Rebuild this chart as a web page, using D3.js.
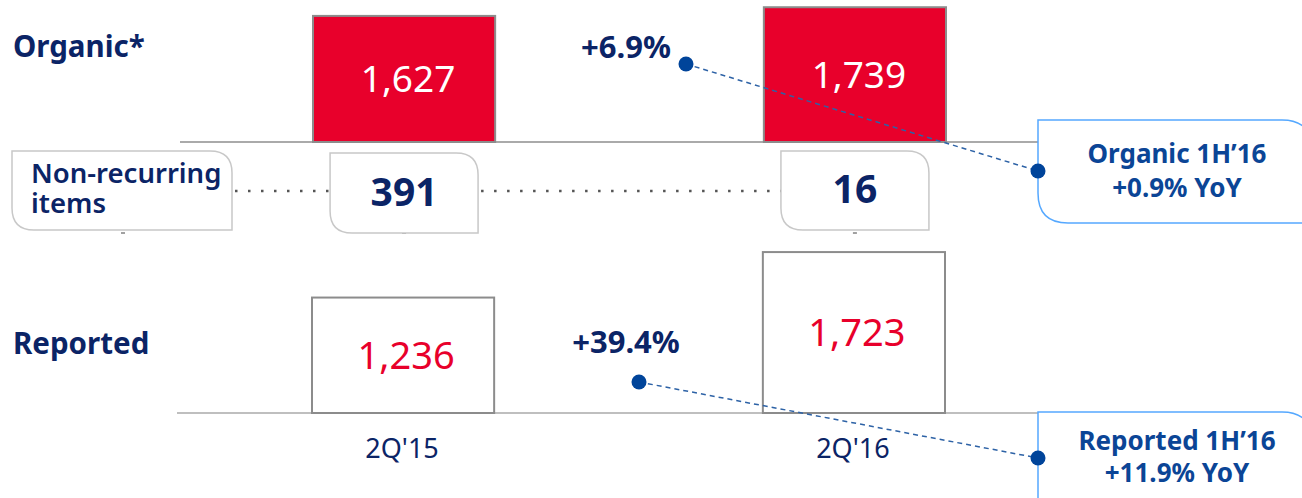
<!DOCTYPE html>
<html>
<head>
<meta charset="utf-8">
<script src="https://cdn.jsdelivr.net/npm/d3@7.9.0/dist/d3.min.js"></script>
<style>
  html, body { margin: 0; padding: 0; background: #fff; }
  svg { display: block; font-family: "Noto Sans", sans-serif; }
</style>
</head>
<body>
<svg id="chart" width="1302" height="498"></svg>
<script>
const categories = ["2Q'15", "2Q'16"];
const organic = [1627, 1739];
const nonRecurring = [391, 16];
const reported = [1236, 1723];
const rowLabels = ['Organic*', 'Non-recurring items', 'Reported'];
const qoqLabels = ['+6.9%', '+39.4%'];
const callouts = [["Organic 1H\u201916", '+0.9% YoY'], ["Reported 1H\u201916", '+11.9% YoY']];

const navy = '#0b2466';
const blue = '#0b4596';
const red = '#e8002b';
const fmt = d3.format(',');

const svg = d3.select('#chart');

const x = d3.scaleBand()
  .domain(categories)
  .range([313, 946])
  .paddingInner(0.596)
  .paddingOuter(0);

const yOrg = d3.scaleLinear().domain([0, 1800]).range([142, 142 - 1800 * 0.0775]);
const yRep = d3.scaleLinear().domain([0, 1800]).range([413, 413 - 1800 * 0.0934]);

// shape with rounded top-right and bottom-left corners
function leafPath(x0, y0, x1, y1, r) {
  return `M${x0},${y0} H${x1 - r} Q${x1},${y0} ${x1},${y0 + r} V${y1} H${x0 + r} Q${x0},${y1} ${x0},${y1 - r} Z`;
}

// baselines
svg.append('line').attr('x1', 180).attr('x2', 1038).attr('y1', yOrg(0)).attr('y2', yOrg(0))
  .attr('stroke', '#aaa').attr('stroke-width', 2);
svg.append('line').attr('x1', 177).attr('x2', 1038).attr('y1', yRep(0)).attr('y2', yRep(0))
  .attr('stroke', '#aaa').attr('stroke-width', 1.5);

// organic bars
svg.append('g').selectAll('rect')
  .data(organic)
  .join('rect')
  .attr('x', (d, i) => x(categories[i]))
  .attr('y', (d) => yOrg(d))
  .attr('width', x.bandwidth())
  .attr('height', (d) => yOrg(0) - yOrg(d))
  .attr('fill', red)
  .attr('stroke', '#8c8c8c')
  .attr('stroke-width', 2);

svg.append('g').selectAll('text')
  .data(organic)
  .join('text')
  .attr('x', (d, i) => x(categories[i]) + x.bandwidth() / 2 + 4)
  .attr('y', (d) => (yOrg(d) + yOrg(0)) / 2)
  .attr('dy', '0.36em')
  .attr('text-anchor', 'middle')
  .attr('fill', '#fff')
  .attr('font-size', 37)
  .text((d) => fmt(d));

// reported boxes
svg.append('g').selectAll('rect')
  .data(reported)
  .join('rect')
  .attr('x', (d, i) => x(categories[i]) - 1)
  .attr('y', (d) => yRep(d))
  .attr('width', x.bandwidth())
  .attr('height', (d) => yRep(0) - yRep(d))
  .attr('fill', '#fff')
  .attr('stroke', '#8c8c8c')
  .attr('stroke-width', 2);

svg.append('g').selectAll('text')
  .data(reported)
  .join('text')
  .attr('x', (d, i) => x(categories[i]) + x.bandwidth() / 2 + 2)
  .attr('y', (d) => (yRep(d) + yRep(0)) / 2)
  .attr('dy', '0.36em')
  .attr('text-anchor', 'middle')
  .attr('fill', red)
  .attr('font-size', 38)
  .text((d) => fmt(d));

// category labels
svg.append('g').selectAll('text')
  .data(categories)
  .join('text')
  .attr('x', (d) => x(d) + x.bandwidth() / 2 - 2)
  .attr('y', 458)
  .attr('text-anchor', 'middle')
  .attr('fill', navy)
  .attr('font-size', 27)
  .text((d) => d);

// row labels
svg.append('text').attr('x', 13).attr('y', 57)
  .attr('fill', navy).attr('font-size', 29.5).attr('font-weight', 700)
  .text(rowLabels[0]);
svg.append('text').attr('x', 13).attr('y', 354)
  .attr('fill', navy).attr('font-size', 29.5).attr('font-weight', 700)
  .text(rowLabels[2]);

// non-recurring row
const nrY = 191;
svg.append('path').attr('d', leafPath(12, 151, 232, 230, 22))
  .attr('fill', '#fff').attr('stroke', '#c8c8c8').attr('stroke-width', 1.5);
const nrText = svg.append('text').attr('x', 31).attr('fill', navy)
  .attr('font-size', 27.5).attr('font-weight', 600);
nrText.append('tspan').attr('x', 31).attr('y', 183).text('Non-recurring');
nrText.append('tspan').attr('x', 31).attr('y', 213).text('items');

const boxW = 148;
const dotted = [
  [232, x(categories[0]) + x.bandwidth() / 2 - boxW / 2],
  [x(categories[0]) + x.bandwidth() / 2 + boxW / 2, x(categories[1]) + x.bandwidth() / 2 - boxW / 2],
];
svg.append('g').selectAll('line')
  .data(dotted)
  .join('line')
  .attr('x1', (d) => d[0] + 3)
  .attr('x2', (d) => d[1])
  .attr('y1', nrY).attr('y2', nrY)
  .attr('stroke', '#555')
  .attr('stroke-width', 2.5)
  .attr('stroke-dasharray', '2.5,10.5');

// small ticks below the row
svg.append('g').selectAll('line')
  .data([123, x(categories[0]) + x.bandwidth() / 2, x(categories[1]) + x.bandwidth() / 2])
  .join('line')
  .attr('x1', (d) => d - 2).attr('x2', (d) => d + 2)
  .attr('y1', 233).attr('y2', 233)
  .attr('stroke', '#444').attr('stroke-width', 1);

const nrG = svg.append('g').selectAll('g')
  .data(nonRecurring)
  .join('g')
  .attr('transform', (d, i) => `translate(${x(categories[i]) + x.bandwidth() / 2},0)`);
nrG.append('path')
  .attr('d', (d, i) => i === 0 ? leafPath(-74, 153, 74, 233, 22) : leafPath(-74, 151, 74, 230, 22))
  .attr('fill', '#fff').attr('stroke', '#c8c8c8').attr('stroke-width', 1.5);
nrG.append('text')
  .attr('x', 0)
  .attr('y', (d, i) => i === 0 ? 206 : 203)
  .attr('text-anchor', 'middle')
  .attr('fill', navy)
  .attr('font-size', 39)
  .attr('font-weight', 700)
  .text((d) => fmt(d));

// growth labels and connector callouts
const growth = [
  { label: qoqLabels[0], lx: 626, ly: 58, dot: [686, 64], end: [1038, 171], box: [1038, 120, 1312, 223], lines: callouts[0], ty: [163, 197] },
  { label: qoqLabels[1], lx: 626, ly: 353, dot: [639, 382], end: [1038, 458], box: [1038, 412, 1312, 530], lines: callouts[1], ty: [450, 482] },
];

growth.forEach((g) => {
  svg.append('path')
    .attr('d', leafPath(g.box[0], g.box[1], g.box[2], g.box[3], 30))
    .attr('fill', '#fff')
    .attr('stroke', '#55a8ff')
    .attr('stroke-width', 1.5);
  svg.append('line')
    .attr('x1', g.dot[0]).attr('y1', g.dot[1])
    .attr('x2', g.end[0]).attr('y2', g.end[1])
    .attr('stroke', '#2d62a6')
    .attr('stroke-width', 1.5)
    .attr('stroke-dasharray', '5,4');
  svg.append('circle').attr('cx', g.dot[0]).attr('cy', g.dot[1]).attr('r', 7.5).attr('fill', '#00449a');
  svg.append('circle').attr('cx', g.end[0]).attr('cy', g.end[1]).attr('r', 7.5).attr('fill', '#00449a');
  svg.append('text')
    .attr('x', g.lx).attr('y', g.ly)
    .attr('text-anchor', 'middle')
    .attr('fill', navy)
    .attr('font-size', 31)
    .attr('font-weight', 700)
    .text(g.label);
  g.lines.forEach((t, i) => {
    svg.append('text')
      .attr('x', 1177).attr('y', g.ty[i])
      .attr('text-anchor', 'middle')
      .attr('fill', blue)
      .attr('font-size', 26)
      .attr('font-weight', 700)
      .text(t);
  });
});
</script>
</body>
</html>
